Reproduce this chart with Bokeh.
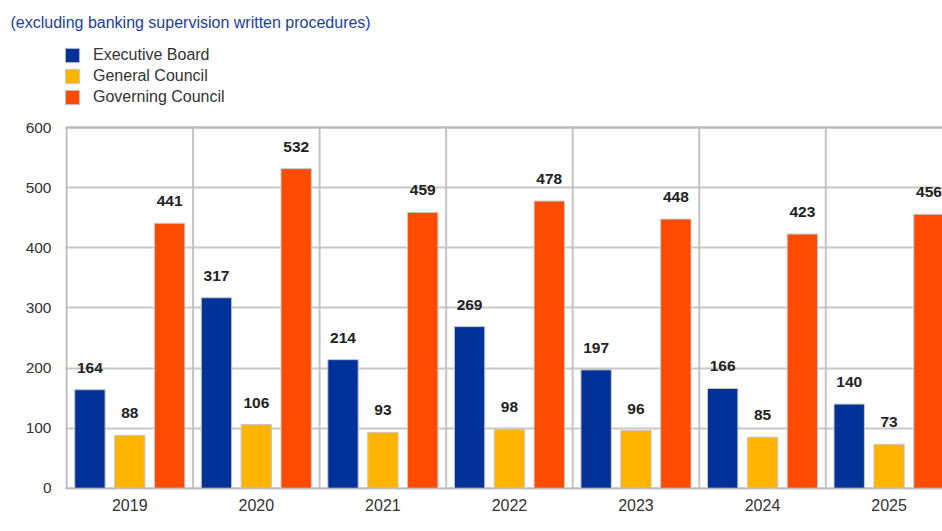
from bokeh.plotting import figure
from bokeh.models import Range1d, FixedTicker, Grid, Legend, LegendItem, ColumnDataSource
from bokeh.core.properties import value
from bokeh.embed import file_html
from bokeh.resources import INLINE

# ---- data ----
years = ["2019", "2020", "2021", "2022", "2023", "2024", "2025"]
executive_board = [164, 317, 214, 269, 197, 166, 140]
general_council = [88, 106, 93, 98, 96, 85, 73]
governing_council = [441, 532, 459, 478, 448, 423, 456]
series_names = ["Executive Board", "General Council", "Governing Council"]
y_ticks = [0, 100, 200, 300, 400, 500, 600]
subtitle = "(excluding banking supervision written procedures)"

# ---- style / layout ----
colors = ["#003299", "#FFB400", "#FF4B00"]
FONT = "Liberation Sans"
offsets = [-0.315, 0.0, 0.315]
bar_w = 0.24
W, H = 942, 529
LEFT, TOP, BOTTOM = 65, 30, 40
PX_X = 126.55          # pixels per year group
PX_Y = 0.6007          # pixels per unit
y_max = y_ticks[-1]
n = len(years)

frame_h = H - TOP - BOTTOM
y0 = -(H - BOTTOM - 487.7) / PX_Y
y1 = y0 + frame_h / PX_Y
x0 = -1 / PX_X
x1 = x0 + (W - LEFT) / PX_X

p = figure(width=W, height=H, output_backend="svg", toolbar_location=None,
           x_range=Range1d(x0, x1), y_range=Range1d(y0, y1),
           min_border_left=LEFT, min_border_right=0, min_border_top=TOP,
           min_border_bottom=BOTTOM)
p.background_fill_color = "white"
p.border_fill_color = "white"
p.outline_line_color = None

p.title.text = subtitle
p.title.align = "left"
p.title.offset = -55
p.title.standoff = 0
p.title.text_font = FONT
p.title.text_font_size = "16px"
p.title.text_font_style = "normal"
p.title.text_color = "#1a3fa3"

# vertical dividers between year groups (plot area only)
div_src = ColumnDataSource(dict(
    x=list(range(n)),
    color=["#b8b8b8"] + ["#c4c4c4"] * (n - 1),
))
p.segment(x0="x", y0=y_ticks[0], x1="x", y1=y_max, source=div_src,
          line_color="color", line_width=2)

items = []
for name, vals, col, off in zip(series_names,
                                [executive_board, general_council, governing_council],
                                colors, offsets):
    src = ColumnDataSource(dict(
        x=[i + 0.5 + off for i in range(n)],
        top=vals,
        label=[str(v) for v in vals],
    ))
    r = p.vbar(x="x", top="top", bottom=0, width=bar_w, source=src, fill_color=col,
               line_color="#c8c8c8", line_width=1)
    items.append(LegendItem(label=name, renderers=[r]))
    p.text(x="x", y="top", text="label", source=src, text_align="center",
           text_baseline="alphabetic", y_offset=-22,
           text_font=value(FONT), text_font_size="15.5px", text_font_style="bold",
           text_color="#222222")

# axes
p.xaxis.ticker = FixedTicker(ticks=[i + 0.5 for i in range(n)])
p.xaxis.major_label_overrides = {i + 0.5: y for i, y in enumerate(years)}
p.yaxis.ticker = FixedTicker(ticks=y_ticks)
for ax in (p.xaxis, p.yaxis):
    ax.axis_line_color = None
    ax.major_tick_line_color = None
    ax.minor_tick_line_color = None
    ax.major_label_text_font = FONT
    ax.major_label_text_color = "#333333"
p.xaxis.major_label_text_font_size = "16px"
p.yaxis.major_label_text_font_size = "15.5px"
p.xaxis.major_label_standoff = 3
p.yaxis.major_label_standoff = 8

# horizontal grid
p.xgrid.visible = False
p.ygrid.grid_line_color = "#c8c8c8"
p.ygrid.grid_line_width = 2
by = Grid(dimension=1, ticker=FixedTicker(ticks=[y_ticks[0], y_max]),
          grid_line_color="#b8b8b8", grid_line_width=2)
p.add_layout(by)

# legend (inside the extended frame, above the plot area)
legend = Legend(items=items, location=(-2, H - BOTTOM - 106), orientation="vertical",
                glyph_width=18, glyph_height=18, label_height=14,
                label_standoff=12, spacing=3, padding=0, margin=0,
                border_line_color=None, background_fill_alpha=0,
                label_text_font=FONT, label_text_font_size="16px",
                label_text_color="#333333")
p.add_layout(legend)

open("out.html", "w").write(file_html(p, INLINE))
